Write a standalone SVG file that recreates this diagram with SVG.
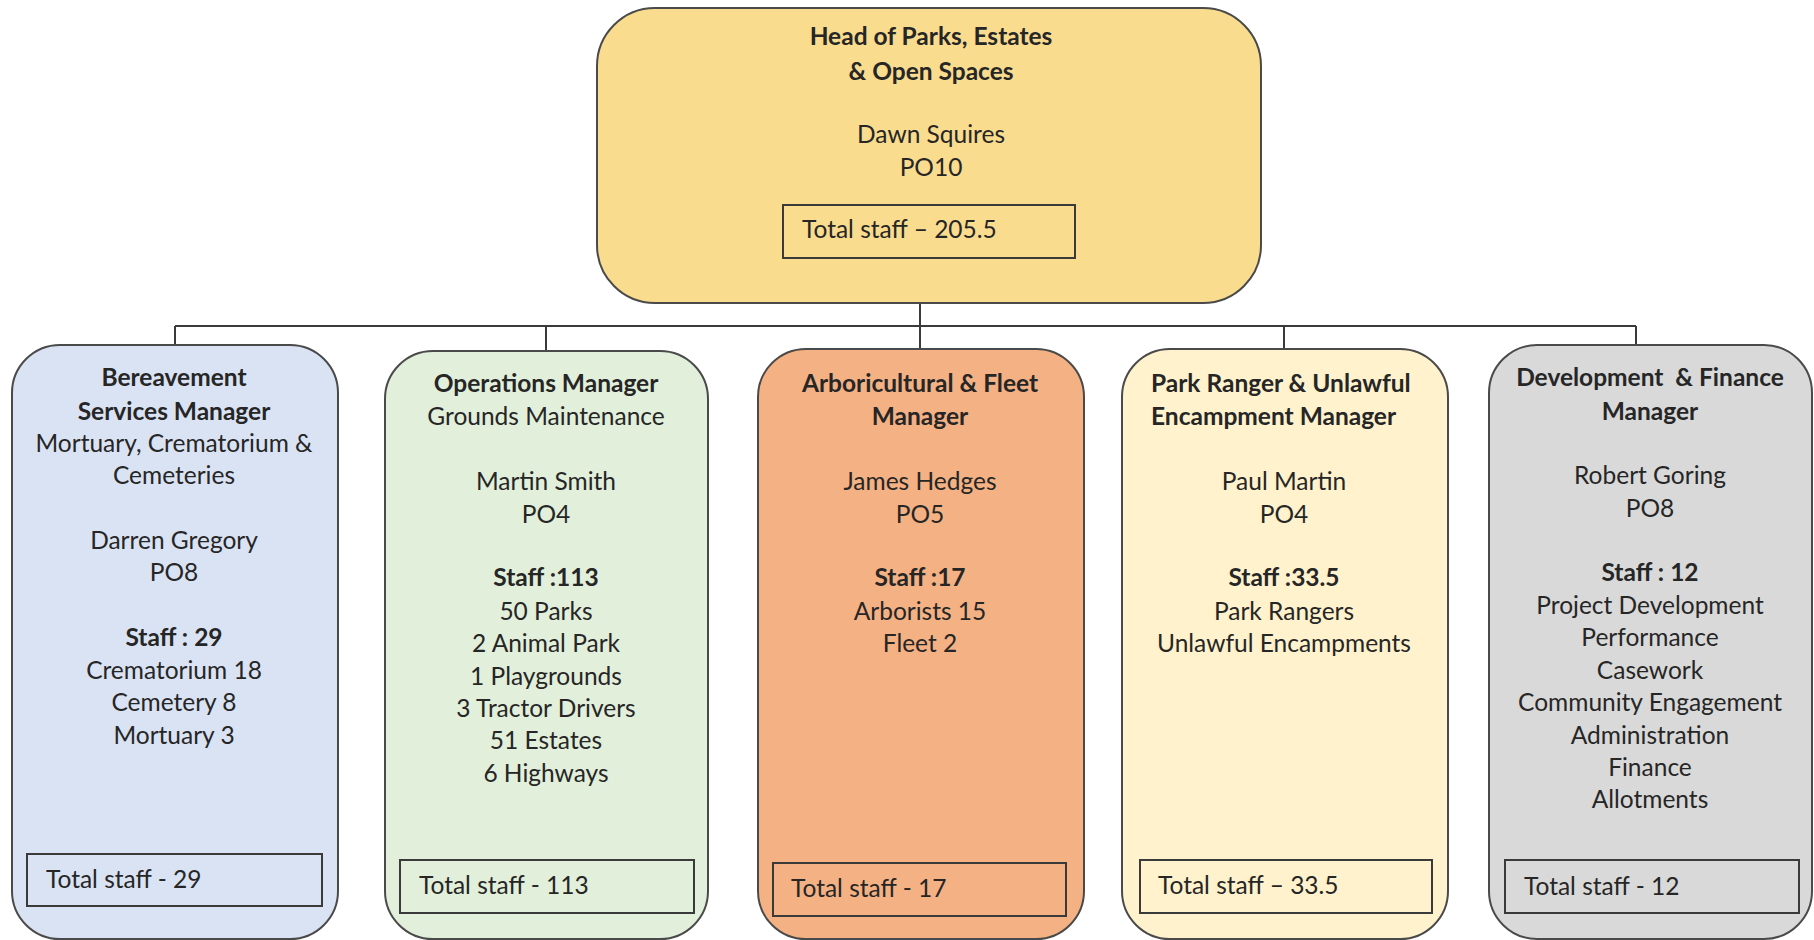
<svg xmlns="http://www.w3.org/2000/svg" width="1814" height="940" viewBox="0 0 1814 940">
<style>
.box{stroke:#4a4a4a;stroke-width:2}
.inner{fill:none;stroke:#3a3a3a;stroke-width:2}
text{font-family:Lato,"Open Sans","Liberation Sans",sans-serif;font-size:24.5px;fill:#262626}
.c{text-anchor:middle}
.b{font-weight:bold}
.conn{stroke:#3a3a3a;stroke-width:2;fill:none}
</style>
<rect width="1814" height="940" fill="#ffffff"/>
<g id="connectors">
<path class="conn" d="M920 303V326M175 326H1636M175 326V346M546 326V351M920 326V349M1284 326V349M1636 326V346"/>
</g>
<g id="head">
<rect class="box" x="597" y="8" width="664" height="295" rx="58" fill="#FADC8F"/>
<rect class="inner" x="783" y="205" width="292" height="53"/>
<text class="c b" x="931" y="45">Head of Parks, Estates</text>
<text class="c b" x="931" y="80">&amp; Open Spaces</text>
<text class="c" x="931" y="143">Dawn Squires</text>
<text class="c" x="931" y="176">PO10</text>
<text x="802" y="238">Total staff – 205.5</text>
</g>
<g id="bereavement">
<rect class="box" x="12" y="345" width="326" height="594" rx="48" fill="#DAE3F3"/>
<rect class="inner" x="27" y="854" width="295" height="52"/>
<text class="c b" x="174" y="386">Bereavement</text>
<text class="c b" x="174" y="420">Services Manager</text>
<text class="c" x="174" y="452">Mortuary, Crematorium &amp;</text>
<text class="c" x="174" y="484">Cemeteries</text>
<text class="c" x="174" y="549">Darren Gregory</text>
<text class="c" x="174" y="581">PO8</text>
<text class="c b" x="174" y="646">Staff : 29</text>
<text class="c" x="174" y="679">Crematorium 18</text>
<text class="c" x="174" y="711">Cemetery 8</text>
<text class="c" x="174" y="744">Mortuary 3</text>
<text x="46" y="888">Total staff - 29</text>
</g>
<g id="operations">
<rect class="box" x="385" y="351" width="323" height="588" rx="48" fill="#E2EFDA"/>
<rect class="inner" x="400" y="860" width="294" height="53"/>
<text class="c b" x="546" y="392">Operations Manager</text>
<text class="c" x="546" y="425">Grounds Maintenance</text>
<text class="c" x="546" y="490">Martin Smith</text>
<text class="c" x="546" y="523">PO4</text>
<text class="c b" x="546" y="586">Staff :113</text>
<text class="c" x="546" y="620">50 Parks</text>
<text class="c" x="546" y="652">2 Animal Park</text>
<text class="c" x="546" y="685">1 Playgrounds</text>
<text class="c" x="546" y="717">3 Tractor Drivers</text>
<text class="c" x="546" y="749">51 Estates</text>
<text class="c" x="546" y="782">6 Highways</text>
<text x="419" y="894">Total staff - 113</text>
</g>
<g id="arboricultural">
<rect class="box" x="758" y="349" width="326" height="590" rx="48" fill="#F4B183"/>
<rect class="inner" x="773" y="863" width="293" height="53"/>
<text class="c b" x="920" y="392">Arboricultural &amp; Fleet</text>
<text class="c b" x="920" y="425">Manager</text>
<text class="c" x="920" y="490">James Hedges</text>
<text class="c" x="920" y="523">PO5</text>
<text class="c b" x="920" y="586">Staff :17</text>
<text class="c" x="920" y="620">Arborists 15</text>
<text class="c" x="920" y="652">Fleet 2</text>
<text x="791" y="897">Total staff - 17</text>
</g>
<g id="ranger">
<rect class="box" x="1122" y="349" width="326" height="590" rx="48" fill="#FFF2CC"/>
<rect class="inner" x="1140" y="860" width="292" height="53"/>
<text class="b" x="1151" y="392">Park Ranger &amp; Unlawful</text>
<text class="b" x="1151" y="425">Encampment Manager</text>
<text class="c" x="1284" y="490">Paul Martin</text>
<text class="c" x="1284" y="523">PO4</text>
<text class="c b" x="1284" y="586">Staff :33.5</text>
<text class="c" x="1284" y="620">Park Rangers</text>
<text class="c" x="1284" y="652">Unlawful Encampments</text>
<text x="1158" y="894">Total staff – 33.5</text>
</g>
<g id="development">
<rect class="box" x="1489" y="345" width="323" height="594" rx="48" fill="#D9D9D9"/>
<rect class="inner" x="1505" y="860" width="294" height="53" fill="#D0D0D0"/>
<text class="c b" x="1650" y="386" xml:space="preserve">Development  &amp; Finance</text>
<text class="c b" x="1650" y="420">Manager</text>
<text class="c" x="1650" y="484">Robert Goring</text>
<text class="c" x="1650" y="517">PO8</text>
<text class="c b" x="1650" y="581">Staff : 12</text>
<text class="c" x="1650" y="614">Project Development</text>
<text class="c" x="1650" y="646">Performance</text>
<text class="c" x="1650" y="679">Casework</text>
<text class="c" x="1650" y="711">Community Engagement</text>
<text class="c" x="1650" y="744">Administration</text>
<text class="c" x="1650" y="776">Finance</text>
<text class="c" x="1650" y="808">Allotments</text>
<text x="1524" y="895">Total staff - 12</text>
</g>
</svg>
